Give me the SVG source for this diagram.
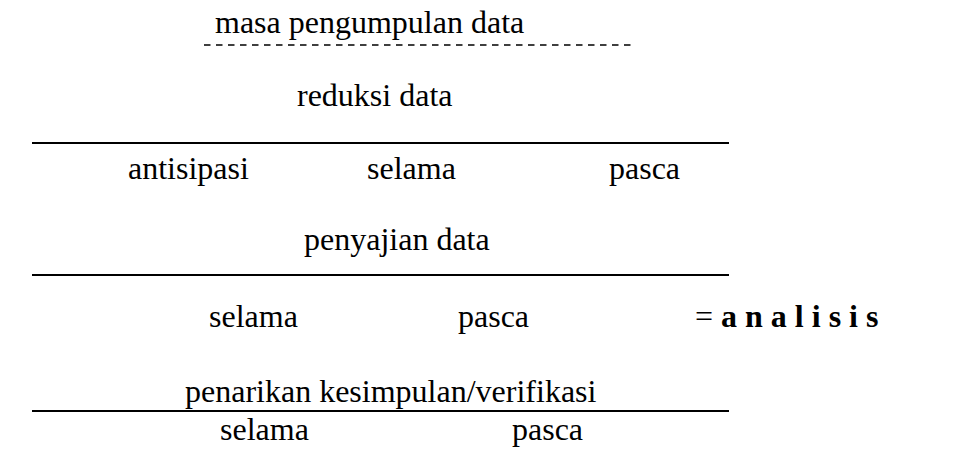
<svg xmlns="http://www.w3.org/2000/svg" width="980" height="456" viewBox="0 0 980 456">
<style>
  .t { font-family: 'Liberation Serif', 'Times New Roman', serif !important; font-size: 32px; fill: #000; }
  .b { font-weight: bold; }
  .rule { stroke: #000; stroke-width: 2; fill: none; }
  .dash { stroke: #000; stroke-width: 1.5; stroke-dasharray: 6.5 5.5; fill: none; }
</style>
<rect width="980" height="456" fill="#fff"/>
<g id="connectors">
  <line class="dash" x1="204" y1="45" x2="636" y2="45"/>
  <line class="rule" x1="32" y1="143" x2="729" y2="143"/>
  <line class="rule" x1="32" y1="275" x2="729" y2="275"/>
  <line class="rule" x1="32" y1="411" x2="729" y2="411"/>
</g>
<g id="masa"><text class="t" style="font-family:'Liberation Serif',serif" x="215" y="33">masa pengumpulan data</text></g>
<g id="reduksi">
  <text class="t" style="font-family:'Liberation Serif',serif" x="297" y="106">reduksi data</text>
  <text class="t" style="font-family:'Liberation Serif',serif" x="128" y="179">antisipasi</text>
  <text class="t" style="font-family:'Liberation Serif',serif" x="367" y="179">selama</text>
  <text class="t" style="font-family:'Liberation Serif',serif" x="609" y="179">pasca</text>
</g>
<g id="penyajian">
  <text class="t" style="font-family:'Liberation Serif',serif" x="304" y="250">penyajian data</text>
  <text class="t" style="font-family:'Liberation Serif',serif" x="209" y="327">selama</text>
  <text class="t" style="font-family:'Liberation Serif',serif" x="458" y="327">pasca</text>
</g>
<g id="analisis"><text class="t" style="font-family:'Liberation Serif',serif" x="695" y="327">= <tspan class="b">a n a l i s i s</tspan></text></g>
<g id="penarikan">
  <text class="t" style="font-family:'Liberation Serif',serif" x="185" y="402">penarikan kesimpulan/verifikasi</text>
  <text class="t" style="font-family:'Liberation Serif',serif" x="220" y="440">selama</text>
  <text class="t" style="font-family:'Liberation Serif',serif" x="512" y="440">pasca</text>
</g>
</svg>
